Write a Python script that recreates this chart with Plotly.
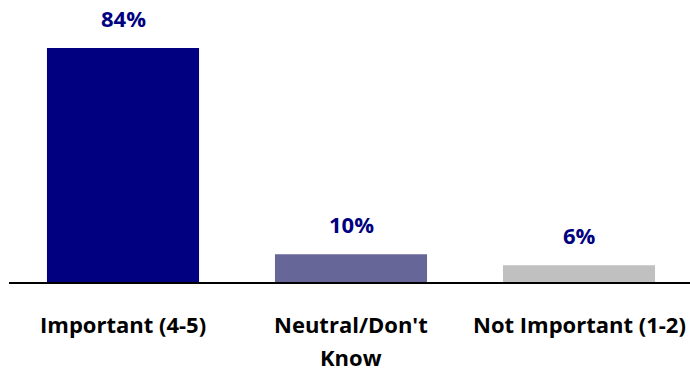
import plotly.graph_objects as go

category_lines = [["Important (4-5)"], ["Neutral/Don't", "Know"], ["Not Important (1-2)"]]
values = [84, 10, 6]
labels = ["84%", "10%", "6%"]
colors = ["#000080", "#666699", "#C0C0C0"]

W, H = 690, 371
ml, mr, mt = 9, 0, 0
plot_h = 282.5
mb = H - mt - plot_h
plot_w = W - ml - mr
spacing = 228.0
px_per = 2.79
FONT = "Open Sans"
FS = 22

fig = go.Figure()
fig.add_trace(go.Bar(
    x=list(range(len(values))), y=values,
    marker=dict(color=colors, line=dict(width=0)),
    width=0.667, hoverinfo="skip",
))
for i, (v, t) in enumerate(zip(values, labels)):
    fig.add_annotation(x=i, y=v, text="<b>%s</b>" % t, showarrow=False,
                       yanchor="bottom", yshift=13,
                       font=dict(family=FONT, size=FS, color="#000080"))
for i, lines in enumerate(category_lines):
    for k, line in enumerate(lines):
        fig.add_annotation(x=i, xref="x", y=0, yref="paper",
                           text="<b>%s</b>" % line, showarrow=False,
                           yanchor="middle", yshift=-41.5 - 33 * k,
                           font=dict(family=FONT, size=FS, color="#000000"))

fig.update_layout(
    width=W, height=H,
    margin=dict(l=ml, r=mr, t=mt, b=mb, pad=0),
    paper_bgcolor="white", plot_bgcolor="white",
    showlegend=False,
    xaxis=dict(
        range=[-0.5, -0.5 + plot_w / spacing],
        showticklabels=False,
        showline=True, linecolor="#000000", linewidth=2,
        showgrid=False, zeroline=False, ticks="",
    ),
    yaxis=dict(
        range=[0, plot_h / px_per],
        visible=False, showgrid=False, zeroline=False,
    ),
)
fig.write_html("out.html")
